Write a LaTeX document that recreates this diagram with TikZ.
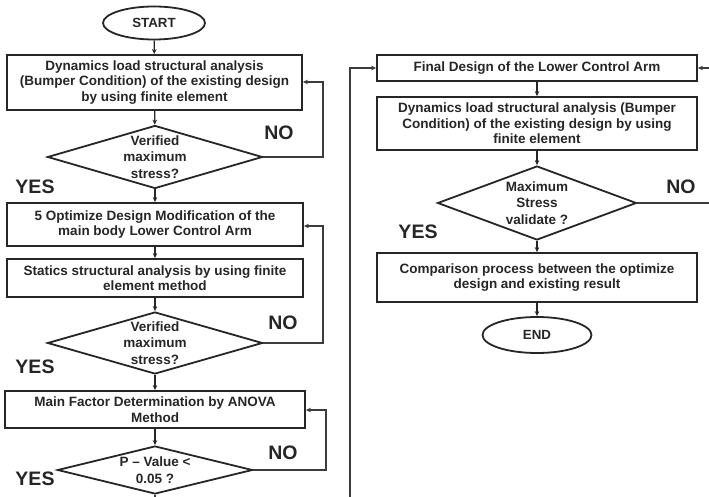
\documentclass[tikz,border=0pt]{standalone}
\usepackage{fontspec}
\setmainfont{Liberation Sans}
\usetikzlibrary{shapes.geometric,arrows.meta}
\definecolor{ink}{HTML}{262626}
\definecolor{wire}{HTML}{3C3C3C}
\tikzset{
  procbox/.style={draw=ink,line width=1.8pt,rectangle,align=center,inner sep=0pt,
    font=\fontsize{13.5}{15.6}\selectfont\bfseries,text=ink},
  termbox/.style={draw=ink,line width=1.8pt,ellipse,inner sep=0pt,
    font=\fontsize{13.3}{14}\selectfont\bfseries,text=ink},
  decision/.style={draw=ink,line width=1.8pt,diamond,inner sep=0pt},
  dtext/.style={align=center,inner sep=0pt,font=\fontsize{13.5}{16.5}\selectfont\bfseries,text=ink},
  answer/.style={font=\fontsize{19.5}{20}\selectfont\bfseries,text=ink,inner sep=0pt},
  flow/.style={draw=ink,line width=1.2pt,-{Stealth[length=5pt,width=4.5pt]}},
  back/.style={draw=wire,line width=1.1pt,-{Stealth[length=5pt,width=4.5pt]}},
}
\begin{document}
\begin{tikzpicture}[x=1pt,y=-1pt]
\useasboundingbox (0,0) rectangle (709,497);
\clip (0,0) rectangle (709,497);
\fill[white] (0,0) rectangle (709,497);

% ---- left column ----
\node[termbox,minimum width=102pt,minimum height=33pt] (start) at (154,23) {START};
\node[procbox,minimum width=295pt,minimum height=55pt] (b1) at (154.5,82.5)
  {Dynamics load structural analysis\\(Bumper Condition) of the existing design\\by using finite element};
\node[decision,minimum width=215pt,minimum height=63pt,
  label={[dtext]center:Verified\\maximum\\stress?}] (d1) at (155,157) {};
\node[procbox,minimum width=296pt,minimum height=43pt] (b2) at (155,224.5)
  {5 Optimize Design Modification of the\\main body Lower Control Arm};
\node[procbox,minimum width=296pt,minimum height=38pt] (b3) at (155,278)
  {Statics structural analysis by using finite\\element method};
\node[decision,minimum width=215pt,minimum height=62pt,
  label={[dtext]center:Verified\\maximum\\stress?}] (d2) at (155,343) {};
\node[procbox,minimum width=300pt,minimum height=37pt] (b4) at (155,409.5)
  {Main Factor Determination by ANOVA\\Method};
\node[decision,minimum width=195pt,minimum height=48pt,
  label={[dtext]center:P -- Value <\\0.05 ?}] (d3) at (155,470) {};

\node[answer] (no1) at (279,133) {NO};
\node[answer] (yes1) at (35,187) {YES};
\node[answer] (no2) at (283,323) {NO};
\node[answer] (yes2) at (35,367) {YES};
\node[answer] (no3) at (283,453) {NO};
\node[answer] (yes3) at (35,479) {YES};

\draw[flow] (start) -- (b1);
\draw[flow] (b1) -- (d1);
\draw[flow] (d1) -- (b2);
\draw[flow] (b2) -- (b3);
\draw[flow] (b3) -- (d2);
\draw[flow] (d2) -- (b4);
\draw[flow] (b4) -- (d3);

\draw[back] (d1.east) -- (323,157) |- (b1.east |- 0,82);
\draw[back] (d2.east) -- (323,343) |- (b2.east |- 0,226);
\draw[back] (d3.east) -- (326,470) |- (b4.east |- 0,410);

% ---- right column ----
\node[procbox,minimum width=320pt,minimum height=26pt] (f1) at (537,68)
  {Final Design of the Lower Control Arm};
\node[procbox,minimum width=320pt,minimum height=53pt] (f2) at (537,123.5)
  {Dynamics load structural analysis (Bumper\\Condition) of the existing design by using\\finite element};
\node[decision,minimum width=199pt,minimum height=74pt,
  label={[dtext]center:Maximum\\Stress\\validate ?}] (d4) at (537,203) {};
\node[procbox,minimum width=320pt,minimum height=49pt] (f3) at (537,277.5)
  {Comparison process between the optimize\\design and existing result};
\node[termbox,minimum width=109pt,minimum height=36pt] (stop) at (537,335) {END};

\node[answer] (no4) at (681,187) {NO};
\node[answer] (yes4) at (418,232) {YES};

\draw[flow] (f1) -- (f2);
\draw[flow] (f2) -- (d4);
\draw[flow] (d4) -- (f3);
\draw[flow] (f3) -- (stop);

% exits running past the page edges
\coordinate (rturn) at (716,203);
\coordinate (lturn) at (350,520);
\draw[back] (d4.east) -- (rturn) |- (f1.east);
\draw[back] (d3.south) -- (155,520) -- (lturn) |- (f1.west);
\end{tikzpicture}
\end{document}
